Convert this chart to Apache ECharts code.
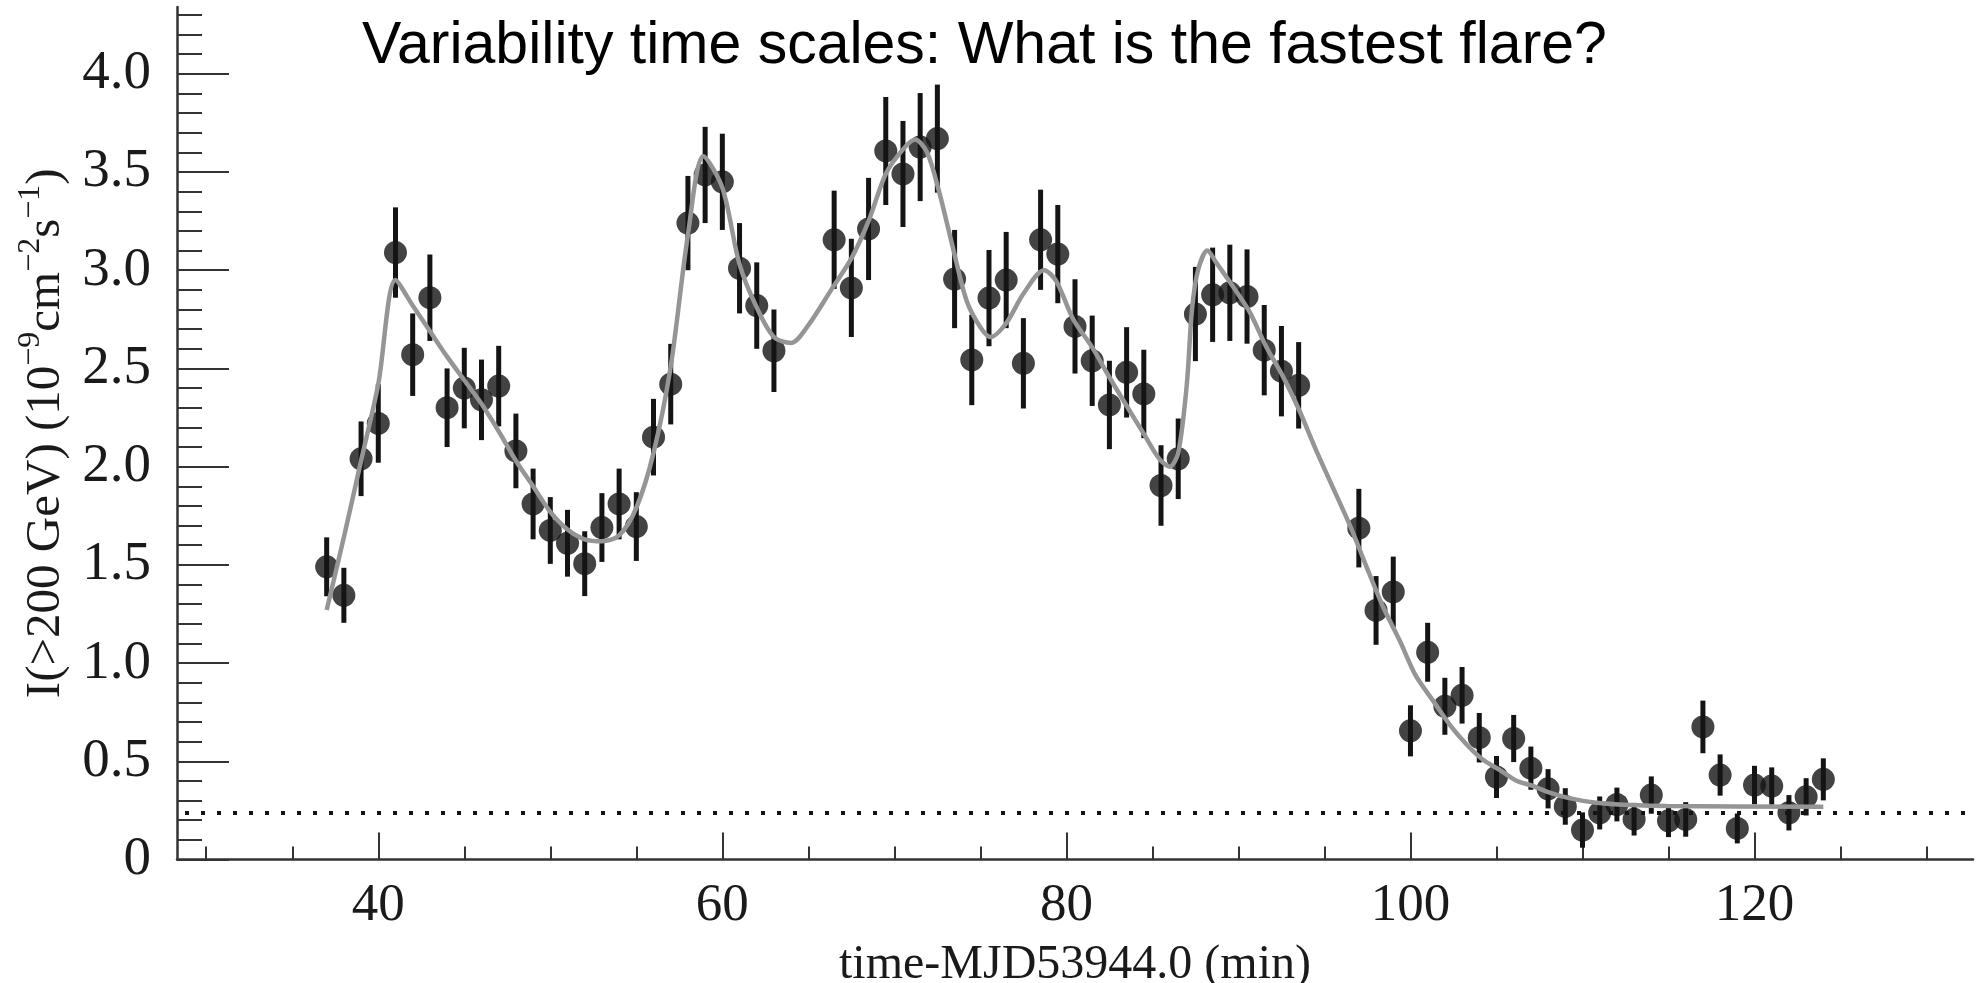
<!DOCTYPE html>
<html><head><meta charset="utf-8">
<script src="https://cdn.jsdelivr.net/npm/echarts@6/dist/echarts.min.js"></script>
<style>html,body{margin:0;padding:0;background:#fff}#c{width:1981px;height:983px}</style>
</head><body><div id="c"></div>
<script>
const chartTitle = 'Variability time scales: What is the fastest flare?';
const xAxisName = 'time-MJD53944.0 (min)';

const times = [37,38,39,40,41,42,43,44,45,46,47,48,49,50,51,52,53,54,55,56,57,58,59,60,61,62,63,
  66.5,67.5,68.5,69.5,70.5,71.5,72.5,73.5,74.5,75.5,76.5,77.5,78.5,79.5,80.5,81.5,82.5,83.5,84.5,85.5,86.5,87.5,88.5,89.5,90.5,91.5,92.5,93.5,
  97,98,99,100,101,102,103,104,105,106,107,108,109,110,111,112,113,114,115,116,117,118,119,120,121,122,123,124];
const flux = [1.49,1.345,2.04,2.22,3.09,2.57,2.86,2.30,2.40,2.34,2.41,2.08,1.81,1.675,1.61,1.506,1.69,1.81,1.695,2.15,2.42,3.24,3.485,3.45,3.01,2.82,2.59,
  3.155,2.91,3.21,3.607,3.49,3.627,3.67,2.955,2.543,2.858,2.95,2.526,3.155,3.082,2.714,2.539,2.314,2.48,2.37,1.904,2.04,2.777,2.875,2.885,2.866,2.593,2.486,2.414,
  1.687,1.268,1.362,0.655,1.055,0.78,0.836,0.62,0.42,0.616,0.465,0.36,0.27,0.15,0.237,0.28,0.205,0.328,0.197,0.204,0.675,0.43,0.158,0.379,0.374,0.238,0.319,0.408];
const fluxErr = [0.15,0.14,0.19,0.20,0.23,0.21,0.22,0.20,0.205,0.205,0.205,0.19,0.18,0.17,0.17,0.165,0.175,0.18,0.175,0.195,0.205,0.24,0.245,0.245,0.23,0.22,0.21,
  0.25,0.25,0.26,0.275,0.27,0.275,0.275,0.25,0.23,0.245,0.245,0.23,0.255,0.25,0.24,0.23,0.225,0.23,0.225,0.205,0.205,0.24,0.24,0.245,0.24,0.23,0.23,0.22,
  0.20,0.175,0.18,0.13,0.15,0.145,0.144,0.126,0.107,0.12,0.11,0.10,0.093,0.09,0.084,0.086,0.083,0.095,0.083,0.088,0.134,0.105,0.076,0.098,0.095,0.09,0.095,0.107];

const fitTimes = [37,38,39,40,41,42,43,44,45,46,47,48,49,50,51,52,53,54,55,56,57,58,58.9,60,61,62,63,64,65,
  66.4,67.5,68.5,69.5,70.5,71.2,71.9,72.6,73.4,74.2,75,75.6,76.5,77.5,78.7,79.4,80.4,81.5,82.5,83.5,84.5,85.4,86,86.5,87,87.3,87.65,88.2,88.7,89.7,
  90.65,91.6,92.6,93.56,94.5,95.5,96.5,97.4,98.4,99.4,100.3,101.3,102.3,103.25,104.2,105.2,106.2,107.1,108.1,109.1,110.8,112.9,114.9,124];
const fitFlux = [1.27,1.64,2.03,2.42,2.95,2.82,2.69,2.56,2.44,2.32,2.18,2.03,1.9,1.77,1.68,1.63,1.62,1.65,1.79,2.07,2.51,3.18,3.58,3.42,3.03,2.81,2.66,2.63,2.72,
  2.91,3.06,3.25,3.49,3.615,3.665,3.6,3.40,3.115,2.845,2.71,2.66,2.73,2.88,3.0,2.946,2.75,2.607,2.455,2.31,2.167,2.04,2.0,2.07,2.42,2.8,3.0,3.1,3.04,2.915,
  2.788,2.613,2.457,2.282,2.087,1.892,1.697,1.5,1.288,1.11,0.937,0.81,0.684,0.587,0.509,0.455,0.40,0.375,0.34,0.315,0.289,0.277,0.272,0.268];

const baselineLevel = 0.24;

const xMajorTicks = [40,60,80,100,120];
const xTickLabels = ['40','60','80','100','120'];
const xMinorTicks = [30,35,40,45,50,55,60,65,70,75,80,85,90,95,100,105,110,115,120,125,130];
const yMajorTicks = [0,0.5,1.0,1.5,2.0,2.5,3.0,3.5,4.0];
const yTickLabels = ['0','0.5','1.0','1.5','2.0','2.5','3.0','3.5','4.0'];
const yMinorTicks = [];
for (let i = 0; i <= 43; i++) yMinorTicks.push(+(i * 0.1).toFixed(1));

const X_MIN = 28.3, X_MAX = 132.7, Y_MIN = 0, Y_MAX = 4.34;
const serif = '"Liberation Serif", "Times New Roman", serif';
const ink = '#1a1a1a';

const chart = echarts.init(document.getElementById('c'), null, {renderer: 'canvas'});
chart.setOption({
  animation: false,
  backgroundColor: '#ffffff',
  title: {
    text: chartTitle, left: 357, top: 12,
    textStyle: {fontFamily: '"Liberation Sans", Arial, sans-serif', fontSize: 59, fontWeight: 'normal', color: '#000'}
  },
  grid: {left: 177, right: 8, top: 7, bottom: 123.5, containLabel: false, outerBoundsMode: 'none'},
  xAxis: [
    {type: 'value', min: X_MIN, max: X_MAX, position: 'bottom',
     axisLine: {show: true, onZero: false, lineStyle: {color: '#333', width: 2.5}},
     axisTick: {show: true, inside: true, length: 13, customValues: xMinorTicks, lineStyle: {color: '#333', width: 2}},
     axisLabel: {show: false}, splitLine: {show: false}},
    {type: 'value', min: X_MIN, max: X_MAX, position: 'bottom', offset: 0,
     axisLine: {show: false},
     axisTick: {show: true, inside: true, length: 27, customValues: xMajorTicks, lineStyle: {color: '#333', width: 2}},
     axisLabel: {show: true, customValues: xMajorTicks, margin: 20,
       formatter: v => xTickLabels[xMajorTicks.indexOf(v)],
       fontFamily: serif, fontSize: 53, color: ink},
     splitLine: {show: false},
     name: xAxisName, nameLocation: 'middle', nameGap: 82,
     nameTextStyle: {fontFamily: serif, fontSize: 48, color: ink, verticalAlign: 'top'}}
  ],
  yAxis: [
    {type: 'value', min: Y_MIN, max: Y_MAX, position: 'left',
     axisLine: {show: true, onZero: false, lineStyle: {color: '#333', width: 2.5}},
     axisTick: {show: true, inside: true, length: 25, customValues: yMinorTicks, lineStyle: {color: '#333', width: 2}},
     axisLabel: {show: false}, splitLine: {show: false}},
    {type: 'value', min: Y_MIN, max: Y_MAX, position: 'left', offset: 0,
     axisLine: {show: false},
     axisTick: {show: true, inside: true, length: 52, customValues: yMajorTicks, lineStyle: {color: '#333', width: 2}},
     axisLabel: {show: true, customValues: yMajorTicks, margin: 26,
       formatter: v => yTickLabels[yMajorTicks.indexOf(v)],
       fontFamily: serif, fontSize: 55, color: ink},
     splitLine: {show: false},
     name: '{a|I(>200 GeV) (10}{s|−9}{a|cm}{s|−2}{a|s}{s|−1}{a|)}',
     nameLocation: 'middle', nameGap: 106, nameRotate: 90,
     nameTextStyle: {fontFamily: serif, color: ink, verticalAlign: 'bottom',
       rich: {a: {fontFamily: serif, fontSize: 49, color: ink, verticalAlign: 'bottom', lineHeight: 56},
              s: {fontFamily: serif, fontSize: 32, color: ink, verticalAlign: 'top', lineHeight: 56}}}}
  ],
  series: [
    {type: 'custom', name: 'errors', xAxisIndex: 0, yAxisIndex: 0, z: 3,
     data: times.map((t, i) => [t, flux[i] - fluxErr[i], flux[i] + fluxErr[i]]),
     encode: {x: 0, y: [1, 2]},
     renderItem: function (params, api) {
       const p1 = api.coord([api.value(0), api.value(1)]);
       const p2 = api.coord([api.value(0), api.value(2)]);
       return {type: 'line', shape: {x1: p1[0], y1: p1[1], x2: p2[0], y2: p2[1]},
               style: {stroke: '#141414', lineWidth: 5}};
     }},
    {type: 'scatter', name: 'flux', xAxisIndex: 0, yAxisIndex: 0, z: 4,
     symbol: 'circle', symbolSize: 23,
     itemStyle: {color: '#141414'},
     data: times.map((t, i) => [t, flux[i]]),
     markLine: {silent: true, symbol: 'none', label: {show: false},
       lineStyle: {color: '#141414', width: 4, type: [4, 12], dashOffset: -8},
       data: [{yAxis: baselineLevel}]}},
    {type: 'line', name: 'fit', xAxisIndex: 0, yAxisIndex: 0, z: 5,
     showSymbol: false, smooth: 0.3,
     lineStyle: {color: '#959595', width: 4.5},
     data: fitTimes.map((t, i) => [t, fitFlux[i]])}
  ]
});
</script></body></html>
